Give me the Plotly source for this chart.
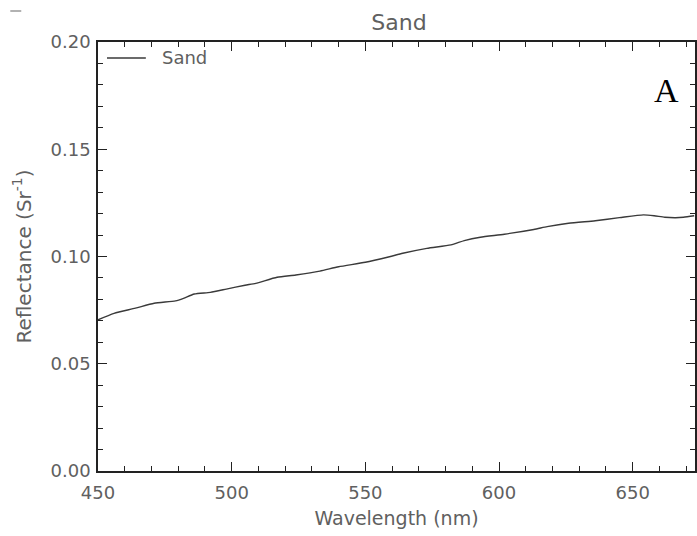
import plotly.graph_objects as go

# Sand reflectance spectrum
wavelength_nm = [450, 456, 464, 471, 479, 482, 486, 492, 498, 505, 509, 517, 524,
                 533, 540, 550, 559, 564, 573, 582, 587, 593, 602, 613, 618, 626,
                 636, 645, 654, 658, 662, 666, 669, 673]
reflectance = [0.0705, 0.0735, 0.0759, 0.0782, 0.0793, 0.0805, 0.0825, 0.0833,
               0.0848, 0.0866, 0.0875, 0.0903, 0.0914, 0.0932, 0.0952, 0.0973,
               0.0999, 0.1015, 0.1038, 0.1054, 0.1074, 0.1090, 0.1104, 0.1126,
               0.1139, 0.1155, 0.1167, 0.1181, 0.1194, 0.1190, 0.1183, 0.1181,
               0.1183, 0.1190]

series_name = "Sand"
x_range = [450, 673.3]
y_range = [0.0, 0.20]

W, H = 697, 536
L, R, T, B = 98, 0, 42, 65
PW, PH = W - L - R, H - T - B

AXIS_COLOR = "#222222"
TEXT_COLOR = "#606060"
FONT = "DejaVu Sans"


def px_x(px):
    return (px - L) / PW


def px_y(py):
    return (H - B - py) / PH


fig = go.Figure()
fig.add_trace(go.Scatter(
    x=wavelength_nm, y=reflectance, mode="lines", name=series_name,
    line=dict(color="#3a3a3a", width=1.4, shape="spline", smoothing=0.6),
    showlegend=False,
))

axis_common = dict(
    showgrid=False, zeroline=False, showline=True, linecolor=AXIS_COLOR,
    linewidth=1.5, ticks="inside", ticklen=9, tickwidth=1.3,
    tickcolor=AXIS_COLOR, mirror="allticks",
    tickfont=dict(family=FONT, size=18, color=TEXT_COLOR),
)

fig.update_xaxes(
    range=x_range, dtick=50, tick0=450, ticklabelstandoff=5,
    minor=dict(dtick=10, ticks="inside", ticklen=5, tickcolor=AXIS_COLOR, tickwidth=1.2),
    title=dict(text="Wavelength (nm)", font=dict(family=FONT, size=19, color=TEXT_COLOR),
               standoff=9),
    **axis_common,
)
fig.update_yaxes(
    range=y_range, dtick=0.05, tick0=0, tickformat=".2f", ticklabelstandoff=2,
    minor=dict(dtick=0.01, ticks="inside", ticklen=5, tickcolor=AXIS_COLOR, tickwidth=1.2),
    title=dict(text="Reflectance (Sr<sup>-1</sup>)",
               font=dict(family=FONT, size=20, color=TEXT_COLOR), standoff=14),
    **axis_common,
)

# legend entry drawn inside the frame
fig.add_shape(type="line", xref="paper", yref="paper",
              x0=px_x(107), x1=px_x(146), y0=px_y(58), y1=px_y(58),
              line=dict(color="#3a3a3a", width=1.4))
fig.add_annotation(text=series_name, xref="paper", yref="paper",
                   x=px_x(160), y=px_y(58), xanchor="left", yanchor="middle",
                   showarrow=False, font=dict(family=FONT, size=18, color=TEXT_COLOR))

# panel letter
fig.add_annotation(text="A", xref="paper", yref="paper",
                   x=px_x(668), y=px_y(90), xanchor="center", yanchor="middle",
                   showarrow=False,
                   font=dict(family="Liberation Serif", size=34, color="#000000"))

# small mark in the top-left corner
fig.add_shape(type="line", xref="paper", yref="paper",
              x0=px_x(10), x1=px_x(21), y0=px_y(11), y1=px_y(11),
              line=dict(color="#999999", width=1.5))

fig.update_layout(
    width=W, height=H,
    margin=dict(l=L, r=R, t=T, b=B),
    paper_bgcolor="white", plot_bgcolor="white",
    title=dict(text="Sand", x=399 / W, xanchor="center", y=1 - 22 / H, yanchor="middle",
               font=dict(family=FONT, size=22, color=TEXT_COLOR)),
    showlegend=False,
)

fig.write_html("out.html")
